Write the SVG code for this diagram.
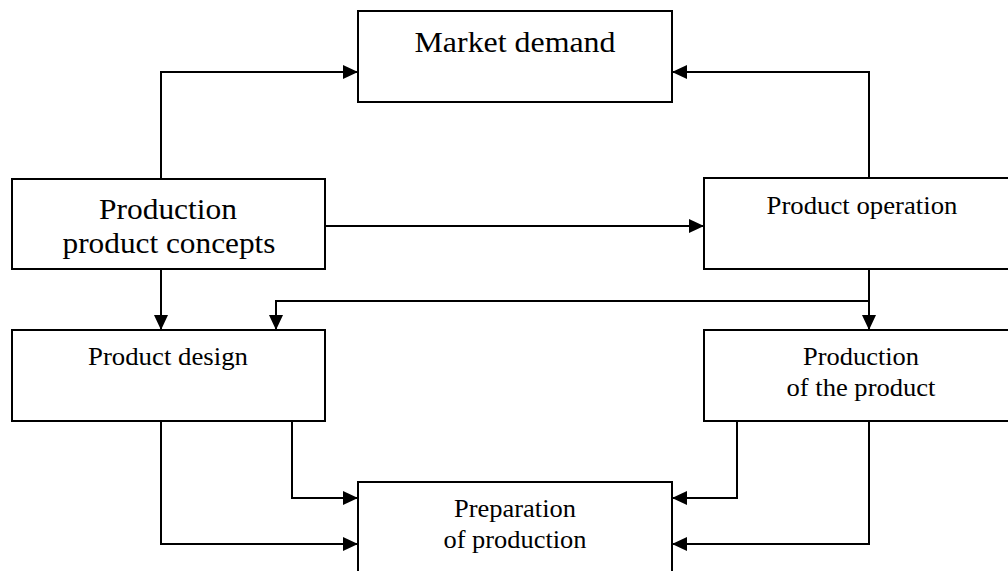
<svg xmlns="http://www.w3.org/2000/svg" width="1008" height="571" viewBox="0 0 1008 571">
<style>
.box{fill:#fff;stroke:#000;stroke-width:2}
.conn{fill:none;stroke:#000;stroke-width:2}
.t{font-family:'Liberation Serif','Times New Roman',Times,serif;fill:#000;text-anchor:middle}
.big{font-size:29px}
.sm{font-size:24.5px}
</style>
<defs>
<marker id="ah" markerUnits="userSpaceOnUse" markerWidth="16" markerHeight="14" refX="15" refY="7" orient="auto">
<path d="M0,0 L15,7 L0,14 z" fill="#000"/>
</marker>
</defs>
<rect width="1008" height="571" fill="#fff"/>
<g id="connectors">
<path class="conn" d="M161,179 V72 H358" marker-end="url(#ah)"/>
<path class="conn" d="M869,178 V72 H672" marker-end="url(#ah)"/>
<path class="conn" d="M325,226 H704" marker-end="url(#ah)"/>
<path class="conn" d="M161,269 V330" marker-end="url(#ah)"/>
<path class="conn" d="M869,269 V330" marker-end="url(#ah)"/>
<path class="conn" d="M869,301 H276 V330" marker-end="url(#ah)"/>
<path class="conn" d="M161,421 V544 H358" marker-end="url(#ah)"/>
<path class="conn" d="M292,421 V498 H358" marker-end="url(#ah)"/>
<path class="conn" d="M737,421 V498 H672" marker-end="url(#ah)"/>
<path class="conn" d="M869,421 V544 H672" marker-end="url(#ah)"/>
</g>
<g id="market-demand">
<rect class="box" x="358" y="11" width="314" height="91"/>
<text class="t big" font-family="Liberation Serif" x="515" y="52" textLength="201" lengthAdjust="spacingAndGlyphs">Market demand</text>
</g>
<g id="production-product-concepts">
<rect class="box" x="12" y="179" width="313" height="90"/>
<text class="t big" font-family="Liberation Serif" x="168" y="219" textLength="138" lengthAdjust="spacingAndGlyphs">Production</text>
<text class="t big" font-family="Liberation Serif" x="169" y="253" textLength="213" lengthAdjust="spacingAndGlyphs">product concepts</text>
</g>
<g id="product-operation">
<rect class="box" x="704" y="178" width="330" height="91"/>
<text class="t sm" font-family="Liberation Serif" x="862" y="214" textLength="191" lengthAdjust="spacingAndGlyphs">Product operation</text>
</g>
<g id="product-design">
<rect class="box" x="12" y="330" width="313" height="91"/>
<text class="t sm" font-family="Liberation Serif" x="168" y="365" textLength="160" lengthAdjust="spacingAndGlyphs">Product design</text>
</g>
<g id="production-of-the-product">
<rect class="box" x="704" y="330" width="330" height="91"/>
<text class="t sm" font-family="Liberation Serif" x="861" y="365" textLength="116" lengthAdjust="spacingAndGlyphs">Production</text>
<text class="t sm" font-family="Liberation Serif" x="861" y="396" textLength="149" lengthAdjust="spacingAndGlyphs">of the product</text>
</g>
<g id="preparation-of-production">
<rect class="box" x="358" y="482" width="314" height="110"/>
<text class="t sm" font-family="Liberation Serif" x="515" y="517" textLength="122" lengthAdjust="spacingAndGlyphs">Preparation</text>
<text class="t sm" font-family="Liberation Serif" x="515" y="548" textLength="143" lengthAdjust="spacingAndGlyphs">of production</text>
</g>
</svg>
